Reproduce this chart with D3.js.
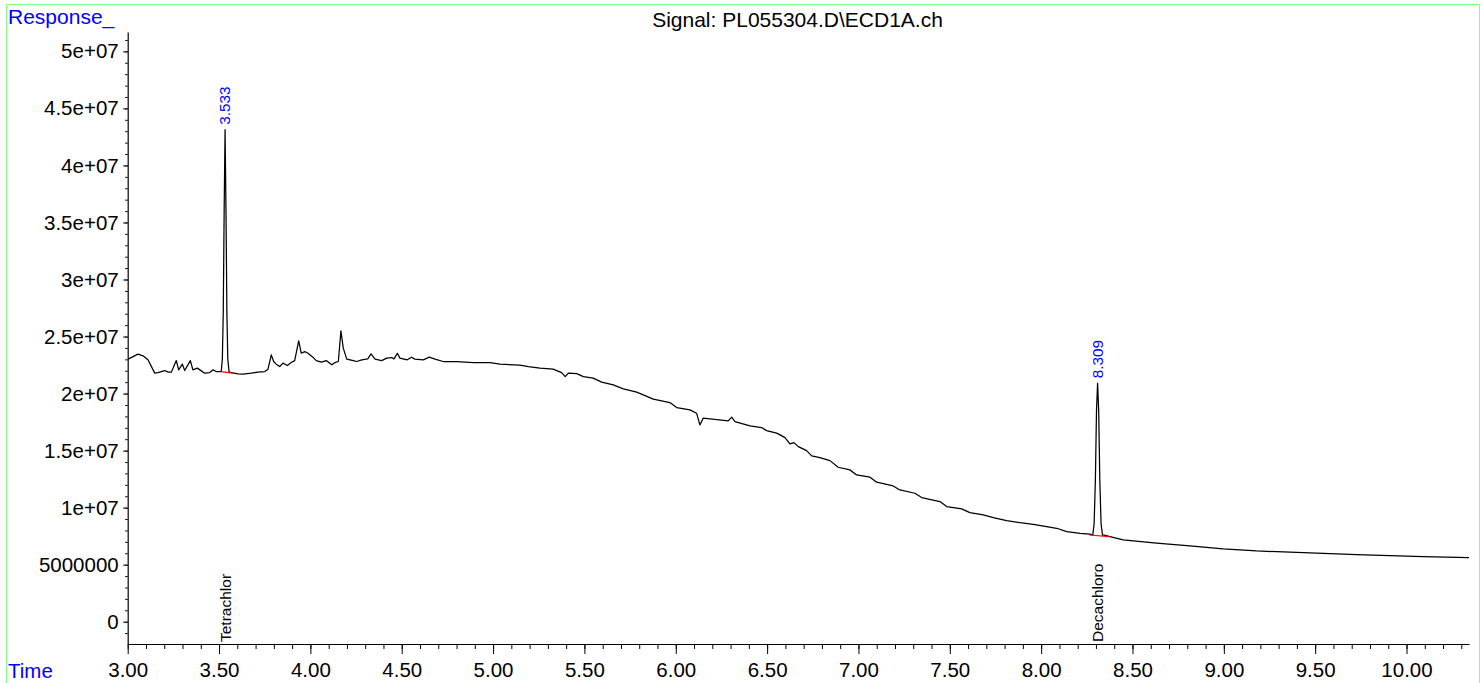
<!DOCTYPE html>
<meta charset="utf-8">
<script src="https://d3js.org/d3.v7.min.js"></script>
<style>
  body { margin: 0; background: #fff; }
  text { font-family: "Liberation Sans", Arial, sans-serif; }
</style>
<div id="my_dataviz"></div>
<script>

// retention time (min) and detector response of the trace
var times = [3.002, 3.056, 3.084, 3.111, 3.148, 3.166, 3.184, 3.203, 3.221, 3.239,
  3.266, 3.279, 3.299, 3.312, 3.343, 3.357, 3.381, 3.403, 3.421, 3.449,
  3.467, 3.485, 3.505, 3.512, 3.518, 3.523, 3.528, 3.533, 3.538, 3.543,
  3.548, 3.555, 3.567, 3.604, 3.631, 3.677, 3.713, 3.750, 3.768, 3.786,
  3.799, 3.813, 3.832, 3.850, 3.874, 3.895, 3.914, 3.936, 3.950, 3.969,
  3.987, 4.014, 4.032, 4.060, 4.087, 4.117, 4.135, 4.153, 4.167, 4.180,
  4.199, 4.235, 4.253, 4.281, 4.314, 4.332, 4.354, 4.390, 4.418, 4.445,
  4.458, 4.476, 4.490, 4.530, 4.554, 4.572, 4.618, 4.651, 4.682, 4.727,
  4.801, 4.892, 4.983, 5.038, 5.147, 5.193, 5.257, 5.329, 5.375, 5.395,
  5.412, 5.458, 5.494, 5.548, 5.594, 5.658, 5.713, 5.786, 5.822, 5.877,
  5.968, 6.005, 6.078, 6.114, 6.132, 6.150, 6.187, 6.287, 6.306, 6.324,
  6.406, 6.470, 6.497, 6.552, 6.571, 6.598, 6.625, 6.647, 6.671, 6.716,
  6.744, 6.789, 6.844, 6.889, 6.953, 6.990, 7.063, 7.100, 7.190, 7.227,
  7.309, 7.346, 7.446, 7.483, 7.565, 7.610, 7.683, 7.738, 7.811, 7.884,
  7.957, 8.030, 8.085, 8.140, 8.213, 8.267, 8.283, 8.290, 8.297, 8.303,
  8.309, 8.315, 8.321, 8.328, 8.336, 8.345, 8.377, 8.449, 8.632, 8.814,
  8.997, 9.179, 9.362, 9.544, 9.727, 9.909, 10.091, 10.342];

var responses = [23.02, 23.46, 23.31, 22.96, 21.79, 21.84, 21.93, 22.02, 21.88, 21.88,
  22.89, 22.08, 22.58, 22.02, 22.89, 22.08, 22.23, 21.99, 21.79, 21.84,
  22.08, 21.93, 21.93, 21.95, 23.00, 27.00, 36.00, 43.13, 36.00, 27.00,
  23.00, 21.90, 21.84, 21.73, 21.70, 21.79, 21.88, 21.93, 22.14, 23.39,
  22.81, 22.58, 22.37, 22.67, 22.46, 22.72, 22.89, 24.62, 23.54, 23.68,
  23.54, 23.19, 22.89, 22.75, 22.89, 22.52, 22.72, 22.81, 25.50, 23.98,
  23.02, 22.89, 22.81, 22.96, 23.04, 23.48, 23.02, 22.89, 23.11, 23.16,
  23.04, 23.54, 23.11, 22.96, 23.19, 23.02, 22.96, 23.19, 23.02, 22.81,
  22.81, 22.72, 22.72, 22.58, 22.49, 22.37, 22.23, 22.14, 21.84, 21.49,
  21.79, 21.75, 21.49, 21.35, 21.00, 20.76, 20.41, 20.12, 19.89, 19.51,
  19.21, 18.77, 18.57, 18.28, 17.25, 17.84, 17.78, 17.61, 17.93, 17.54,
  17.17, 17.02, 16.75, 16.53, 16.38, 16.14, 15.59, 15.70, 15.35, 15.00,
  14.54, 14.39, 14.12, 13.54, 13.31, 12.87, 12.67, 12.23, 11.90, 11.55,
  11.26, 10.88, 10.53, 10.09, 9.89, 9.56, 9.36, 9.12, 8.86, 8.68,
  8.54, 8.33, 8.19, 7.89, 7.75, 7.67, 7.62, 8.60, 12.50, 18.50,
  20.91, 18.50, 12.50, 8.60, 7.58, 7.58, 7.46, 7.17, 6.88, 6.64,
  6.38, 6.20, 6.09, 6.00, 5.88, 5.79, 5.70, 5.61].map(function(v) { return v * 1e6; });

// integrated peaks
var peakTimes = [3.533, 8.309];
var peakApex = [43.13e6, 20.91e6];
var peakNames = ["Tetrachlor", "Decachloro"];
var peakStart = [[3.509, 21.93e6], [8.263, 7.60e6]];
var peakEnd = [[3.576, 21.79e6], [8.372, 7.46e6]];

// axis ticks
var xMajor = d3.range(3, 10.01, 0.5);
var xMinor = d3.range(3, 10.35, 0.1);
var yMajor = d3.range(0, 5.01e7, 5e6);
var yLabels = ["0", "5000000", "1e+07", "1.5e+07", "2e+07", "2.5e+07", "3e+07", "3.5e+07", "4e+07", "4.5e+07", "5e+07"];
var yMinor = d3.range(-1e6, 5.15e7, 1e6);

var W = 1482, H = 683;
var svg = d3.select("#my_dataviz").append("svg")
  .attr("width", W).attr("height", H);

// green frame
svg.append("rect")
  .attr("x", 6.5).attr("y", 4.5)
  .attr("width", 1473).attr("height", 700)
  .attr("fill", "none").attr("stroke", "#80ff80").attr("stroke-width", 1);

var x = d3.scaleLinear().domain([3, 10.342]).range([127.7, 1469]);
var y = d3.scaleLinear().domain([-1.956e6, 5.17e7]).range([644, 32]);

// x axis
svg.append("g")
  .attr("transform", "translate(0,644)")
  .call(d3.axisBottom(x).tickValues(xMinor).tickSize(5).tickSizeOuter(0).tickFormat(""))
  .call(function(g) { g.select(".domain").attr("stroke-width", 1.2); });
svg.append("g")
  .attr("transform", "translate(0,644)")
  .call(d3.axisBottom(x).tickValues(xMajor).tickSize(10).tickPadding(8.5)
    .tickFormat(d3.format(".2f")))
  .call(function(g) {
    g.select(".domain").remove();
    g.selectAll("text").attr("font-size", "20.5px").attr("font-family", "Liberation Sans, Arial").attr("fill", "#000");
  });

// y axis
svg.append("g")
  .attr("transform", "translate(127.7,0)")
  .call(d3.axisLeft(y).tickValues(yMinor).tickSize(2.5).tickSizeOuter(0).tickFormat(""))
  .call(function(g) { g.select(".domain").attr("stroke-width", 1.2); });
svg.append("g")
  .attr("transform", "translate(127.7,0)")
  .call(d3.axisLeft(y).tickValues(yMajor).tickSize(4.5).tickPadding(4.5)
    .tickFormat(function(d, i) { return yLabels[i]; }))
  .call(function(g) {
    g.select(".domain").remove();
    g.selectAll("text").attr("font-size", "20.5px").attr("font-family", "Liberation Sans, Arial").attr("fill", "#000");
  });

// trace
var pts = times.map(function(t, i) { return [t, responses[i]]; });
svg.append("path")
  .datum(pts)
  .attr("fill", "none")
  .attr("stroke", "#000")
  .attr("stroke-width", 1.25)
  .attr("stroke-linejoin", "round")
  .attr("d", d3.line().x(function(d) { return x(d[0]); }).y(function(d) { return y(d[1]); }));

// integration baselines
peakStart.forEach(function(s, i) {
  svg.append("line")
    .attr("x1", x(s[0])).attr("y1", y(s[1]))
    .attr("x2", x(peakEnd[i][0])).attr("y2", y(peakEnd[i][1]))
    .attr("stroke", "red").attr("stroke-width", 1.2);
});

// retention time labels
peakTimes.forEach(function(t, i) {
  svg.append("text")
    .attr("transform", "translate(" + x(t) + "," + (y(peakApex[i]) - 5) + ") rotate(-90)")
    .attr("dy", "0.35em")
    .attr("font-size", "15.3px")
    .attr("fill", "#0000ff")
    .text(d3.format(".3f")(t));
  svg.append("text")
    .attr("transform", "translate(" + x(t) + ",642) rotate(-90)")
    .attr("dy", "0.35em")
    .attr("font-size", "15.5px")
    .attr("fill", "#000")
    .text(peakNames[i]);
});

// titles
svg.append("text").attr("x", 8).attr("y", 24)
  .attr("font-size", "21px").attr("fill", "#0000ff").text("Response_");
svg.append("text").attr("x", 8).attr("y", 678)
  .attr("font-size", "20.5px").attr("fill", "#0000ff").text("Time");
svg.append("text").attr("x", 797.5).attr("y", 27)
  .attr("text-anchor", "middle").attr("font-size", "21px").attr("fill", "#000")
  .text("Signal: PL055304.D\\ECD1A.ch");

</script>
